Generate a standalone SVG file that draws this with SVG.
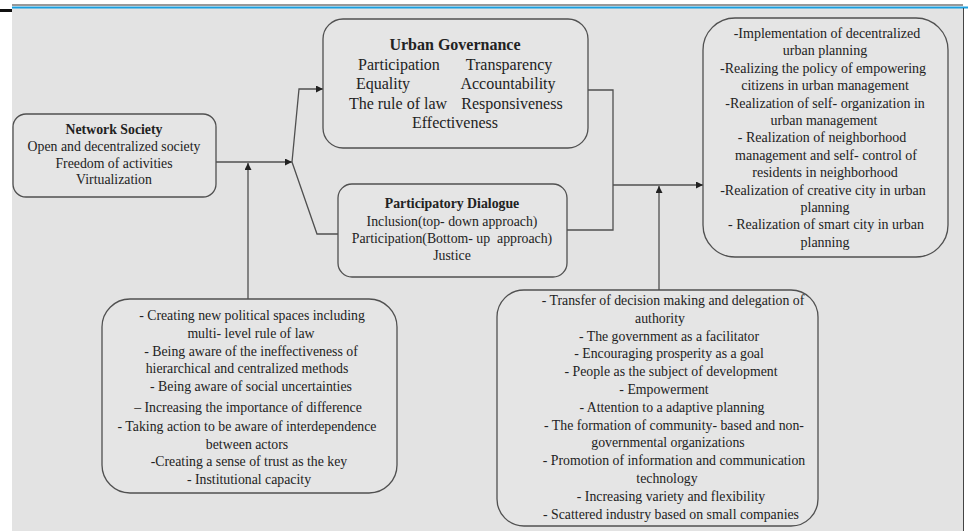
<svg xmlns="http://www.w3.org/2000/svg" width="968" height="531" viewBox="0 0 968 531" font-family="'Liberation Serif', 'Times New Roman', serif">
<defs>
<style>
.bg{fill:#e3e3e3}
.box{fill:#e5e5e5;stroke:#505050;stroke-width:1.3}
.t{font-size:13.8px;fill:#222;text-anchor:middle}
.ug{font-size:16px}
.b{font-weight:bold}
.c{fill:none;stroke:#505050;stroke-width:1.3}
</style>
<marker id="ah" viewBox="0 0 10 10" refX="10" refY="5" markerWidth="7" markerHeight="7" markerUnits="userSpaceOnUse" orient="auto">
<path d="M0,0 L10,5 L0,10 z" fill="#222"/>
</marker>
</defs>
<rect x="0" y="0" width="968" height="531" fill="#ffffff"/>
<rect class="bg" x="12" y="8" width="951" height="523"/>
<line x1="12" y1="5" x2="963" y2="5" stroke="#333" stroke-width="1"/>
<line x1="12" y1="7.5" x2="968" y2="7.5" stroke="#1a9fe0" stroke-width="2"/>
<rect x="0" y="9" width="12" height="3" fill="#111"/>
<line x1="963.5" y1="8" x2="963.5" y2="531" stroke="#444" stroke-width="1"/>

<g id="connectors">
<polyline class="c" points="216,162 292,162" marker-end="url(#ah)"/>
<polyline class="c" points="292,162 299,89 323,89" marker-end="url(#ah)"/>
<polyline class="c" points="292,162 317,234 338,234"/>
<polyline class="c" points="248,299 248,163" marker-end="url(#ah)"/>
<polyline class="c" points="588,90 613,90 613,230 567,230"/>
<polyline class="c" points="613,185 703,185" marker-end="url(#ah)"/>
<polyline class="c" points="659,290 659,186" marker-end="url(#ah)"/>
</g>

<g id="network-society">
<rect class="box" x="13" y="114" width="203" height="83" rx="13"/>
<text class="t" x="114" y="134"><tspan class="b" x="114">Network Society</tspan><tspan x="114" dy="17">Open and decentralized society</tspan><tspan x="114" dy="16.5">Freedom of activities</tspan><tspan x="114" dy="16.5">Virtualization</tspan></text>
</g>

<g id="urban-governance">
<rect class="box" x="323" y="19" width="265" height="129" rx="20"/>
<text class="t ug b" x="455" y="50">Urban Governance</text>
<text class="t ug" x="399" y="70">Participation</text>
<text class="t ug" x="509" y="70">Transparency</text>
<text class="t ug" x="383" y="89">Equality</text>
<text class="t ug" x="508" y="89">Accountability</text>
<text class="t ug" x="398" y="109">The rule of law</text>
<text class="t ug" x="512" y="109">Responsiveness</text>
<text class="t ug" x="455" y="128">Effectiveness</text>
</g>

<g id="participatory-dialogue">
<rect class="box" x="338" y="184" width="229" height="93" rx="14"/>
<text class="t" x="452" y="208"><tspan class="b" x="452">Participatory Dialogue</tspan><tspan x="452" dy="18">Inclusion(top- down approach)</tspan><tspan x="452" dy="17" xml:space="preserve">Participation(Bottom- up  approach)</tspan><tspan x="452" dy="17">Justice</tspan></text>
</g>

<g id="outcomes">
<rect class="box" x="703" y="18" width="245" height="239" rx="32"/>
<text class="t" x="825" y="38" style="font-size:14px"><tspan x="827">-Implementation of decentralized</tspan><tspan x="825" dy="17.4">urban planning</tspan><tspan x="823" dy="17.4">-Realizing the policy of empowering</tspan><tspan x="825" dy="17.4">citizens in urban management</tspan><tspan x="825" dy="17.4">-Realization of self- organization in</tspan><tspan x="824" dy="17.4">urban management</tspan><tspan x="822" dy="17.4">- Realization of neighborhood</tspan><tspan x="826" dy="17.4">management and self- control of</tspan><tspan x="825" dy="17.4">residents in neighborhood</tspan><tspan x="823" dy="17.4">-Realization of creative city in urban</tspan><tspan x="825" dy="17.4">planning</tspan><tspan x="826" dy="17.4">- Realization of smart city in urban</tspan><tspan x="825" dy="17.4">planning</tspan></text>
</g>

<g id="network-factors">
<rect class="box" x="102" y="299" width="295" height="194" rx="28"/>
<text class="t" x="249" y="320"><tspan x="252">- Creating new political spaces including</tspan><tspan x="251" dy="18">multi- level rule of law</tspan><tspan x="251" dy="18">- Being aware of the ineffectiveness of</tspan><tspan x="247" dy="17">hierarchical and centralized methods</tspan><tspan x="251" dy="18">- Being aware of social uncertainties</tspan><tspan x="248" dy="21">– Increasing the importance of difference</tspan><tspan x="247" dy="19">- Taking action to be aware of interdependence</tspan><tspan x="247" dy="17.5">between actors</tspan><tspan x="249" dy="17.5">-Creating a sense of trust as the key</tspan><tspan x="249" dy="18">- Institutional capacity</tspan></text>
</g>

<g id="governance-factors">
<rect class="box" x="497" y="290" width="321" height="236" rx="27"/>
<text class="t" x="670" y="305"><tspan x="673">- Transfer of decision making and delegation of</tspan><tspan x="660" dy="17.8">authority</tspan><tspan x="669" dy="17.8">- The government as a facilitator</tspan><tspan x="669" dy="17.8">- Encouraging prosperity as a goal</tspan><tspan x="671" dy="17.8">- People as the subject of development</tspan><tspan x="664" dy="17.8">- Empowerment</tspan><tspan x="672" dy="17.8">- Attention to a adaptive planning</tspan><tspan x="674" dy="17.8">- The formation of community- based and non-</tspan><tspan x="668" dy="17.8">governmental organizations</tspan><tspan x="674" dy="17.8">- Promotion of information and communication</tspan><tspan x="667" dy="17.8">technology</tspan><tspan x="671" dy="17.8">- Increasing variety and flexibility</tspan><tspan x="671" dy="17.8">- Scattered industry based on small companies</tspan></text>
</g>
</svg>
